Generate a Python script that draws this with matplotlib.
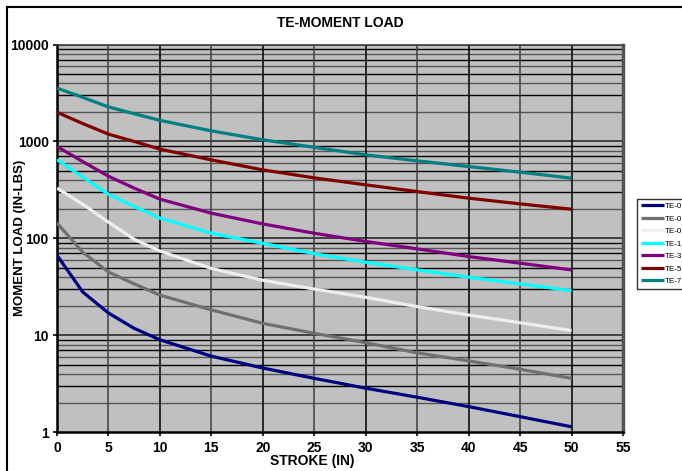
import matplotlib
matplotlib.use("Agg")
import matplotlib.pyplot as plt
from matplotlib.lines import Line2D
from matplotlib.ticker import FixedLocator, NullFormatter

plt.rcParams['font.family'] = ['Liberation Sans', 'DejaVu Sans']

# stroke (in) and moment load (in-lbs)
stroke = [0, 2.5, 5, 7.5, 10, 15, 20, 25, 30, 35, 40, 45, 50]
te0_navy = [67, 28, 17, 11.8, 9.0, 6.1, 4.6, 3.6, 2.85, 2.3, 1.84, 1.45, 1.14]
te0_grey = [144, 72, 45, 34, 26, 18.3, 13.3, 10.5, 8.4, 6.6, 5.45, 4.47, 3.6]
te0_white = [330, 225, 147, 98, 74, 49, 37, 30, 24.7, 19.8, 16.2, 13.5, 11.2]
te1 = [650, 428, 285, 213, 162, 113, 89, 69.5, 56.8, 47.3, 39.8, 33.9, 28.9]
te3 = [886, 620, 438, 330, 254, 182, 141, 113, 93, 78, 65, 55.5, 47.3]
te5 = [2000, 1530, 1190, 1000, 833, 645, 509, 421, 357, 304, 260, 227, 200]
te7 = [3550, 2850, 2270, 1930, 1650, 1285, 1040, 870, 727, 631, 551, 482, 418]

labels = ["TE-0", "TE-0", "TE-0", "TE-1", "TE-3", "TE-5", "TE-7"]
series = [te0_navy, te0_grey, te0_white, te1, te3, te5, te7]
colors = ["#000080", "#707070", "#EEEEEE", "#00FFFF", "#800080", "#800000", "#008080"]

fig = plt.figure(figsize=(6.82, 4.71), dpi=100)
ax = fig.add_axes([57 / 682, 1 - 432.3 / 471, 566 / 682, (432.3 - 44.5) / 471])
ax.set_facecolor("#C0C0C0")
ax.set_yscale("log")
ax.set_xlim(0, 55)
ax.set_ylim(1, 10000)

# grid lines
for dec in [1, 10, 100, 1000]:
    for m in range(2, 10):
        c = "#555555" if m % 2 == 0 else "black"
        ax.axhline(dec * m, color=c, lw=1.0, zorder=1)
    ax.axhline(dec * 10, color="#404040", lw=1.4, zorder=1)
for i, xv in enumerate(range(5, 55, 5)):
    c = "black" if i % 2 == 1 else "#404040"
    ax.axvline(xv, color=c, lw=1.1, zorder=1)

handles = []
for s, lab, col in zip(series, labels, colors):
    ln, = ax.plot(stroke, s, color=col, lw=2.3, label=lab, zorder=3,
                  solid_capstyle="butt", solid_joinstyle="round")
    handles.append(ln)

ax.xaxis.set_major_locator(FixedLocator(range(0, 56, 5)))
ax.yaxis.set_major_locator(FixedLocator([1, 10, 100, 1000, 10000]))
ax.yaxis.set_minor_locator(FixedLocator([]))
ax.yaxis.set_minor_formatter(NullFormatter())
ax.set_yticklabels(["1", "10", "100", "1000", "10000"])
ax.tick_params(axis="both", which="major", direction="out", length=3,
               width=1.2, labelsize=10, pad=3)
for lbl in ax.get_xticklabels() + ax.get_yticklabels():
    lbl.set_fontweight("bold")

ax.spines["left"].set_linewidth(1.8)
ax.spines["bottom"].set_linewidth(1.8)
ax.spines["right"].set_color("#555555")
ax.spines["right"].set_linewidth(2.5)
ax.spines["top"].set_color("#404040")
ax.spines["top"].set_linewidth(1.2)

fig.text(340 / 682, 1 - 23 / 471, "TE-MOMENT LOAD", ha="center", va="center",
         fontsize=10, fontweight="bold")
fig.text(312 / 682, 1 - 461 / 471, "STROKE (IN)", ha="center", va="center",
         fontsize=10, fontweight="bold")
fig.text(20 / 682, 1 - 238 / 471, "MOMENT LOAD (IN-LBS)", ha="center",
         va="center", rotation=90, fontsize=9.5, fontweight="bold")

# outer frame
fig.add_artist(Line2D([7 / 682, 1.0], [1 - 7 / 471, 1 - 7 / 471],
                      color="black", lw=1.5, transform=fig.transFigure))
fig.add_artist(Line2D([7 / 682, 7 / 682], [0.0, 1 - 7 / 471],
                      color="black", lw=1.5, transform=fig.transFigure))

leg = fig.legend(handles=handles, labels=labels, loc="upper left",
                 bbox_to_anchor=(637 / 682, 1 - 199 / 471), fontsize=5.8,
                 frameon=True, fancybox=False, handlelength=2.9,
                 handletextpad=0.1, labelspacing=0.6, borderpad=0.45,
                 borderaxespad=0)
leg.get_frame().set_edgecolor("black")
leg.get_frame().set_linewidth(1.0)
for h in leg.legend_handles:
    h.set_linewidth(2.3)

fig.savefig("out.png", dpi=100)
